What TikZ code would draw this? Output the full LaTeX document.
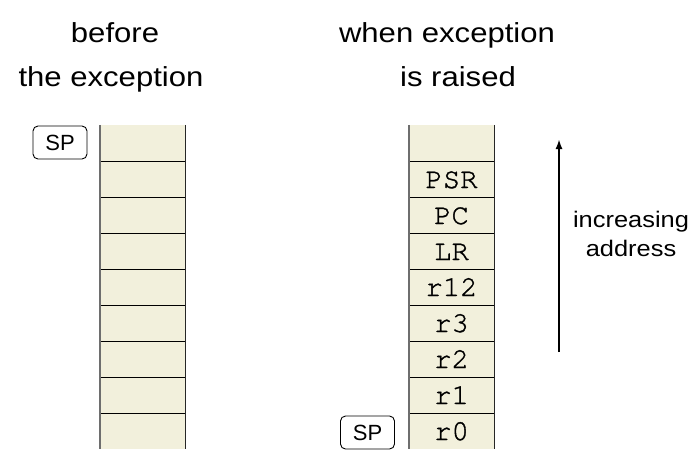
\documentclass[tikz,border=0pt]{standalone}
\usepackage{fontspec}
\setmainfont{Liberation Sans}
\newfontfamily\headfont[FakeStretch=1.13]{Liberation Sans}
\newfontfamily\regfont[FakeBold=1.2]{texgyrecursor-regular.otf}
\usetikzlibrary{arrows.meta}
\definecolor{cellfill}{RGB}{242,240,220}
\definecolor{leftedge}{RGB}{110,110,110}
\tikzset{
  cell/.style={rectangle, fill=cellfill, minimum width=85pt, minimum height=36pt, inner sep=0pt,
    text height=18pt, text depth=0pt, font=\regfont\fontsize{29}{29}\selectfont},
  head/.style={anchor=base, inner sep=0pt, font=\headfont\fontsize{27.5}{30}\selectfont},
  side/.style={anchor=base, inner sep=0pt, font=\headfont\fontsize{22.5}{26}\selectfont},
  spbox/.style={draw=black, line width=0.9pt, rounded corners=5pt, minimum width=54pt, minimum height=33pt,
    inner sep=0pt, text height=15pt, text depth=0pt, font=\fontsize{22}{22}\selectfont},
  sep/.style={black, line width=1.2pt},
  ledge/.style={leftedge, line width=1.6pt},
  redge/.style={black!85, line width=1.2pt},
}
\begin{document}
\begin{tikzpicture}[x=1pt, y=-1pt]
\useasboundingbox (0,0) rectangle (695,464);
% titles
\node[head] (t1) at (115,42) {before};
\node[head] (t2) at (111,86) {the exception};
\node[head] (t3) at (447,42) {when exception};
\node[head] (t4) at (458,86) {is raised};
% left column
\foreach \i in {1,...,9} {
  \node[cell] (L\i) at (142.5,{107+36*\i}) {};
}
\foreach \i in {1,...,8} {
  \draw[sep] (L\i.south west) -- (L\i.south east);
}
\draw[ledge] (L1.north west) -- (L9.south west);
\draw[redge] (L1.north east) -- (L9.south east);
% right column
\node[cell] (R1) at (451.5,143) {};
\node[cell] (R2) at (451.5,179) {PSR};
\node[cell] (R3) at (451.5,215) {PC};
\node[cell] (R4) at (451.5,251) {LR};
\node[cell] (R5) at (451.5,287) {r12};
\node[cell] (R6) at (451.5,323) {r3};
\node[cell] (R7) at (451.5,359) {r2};
\node[cell] (R8) at (451.5,395) {r1};
\node[cell] (R9) at (451.5,431) {r0};
\foreach \i in {1,...,8} {
  \draw[sep] (R\i.south west) -- (R\i.south east);
}
\draw[ledge] (R1.north west) -- (R9.south west);
\draw[redge] (R1.north east) -- (R9.south east);
% SP pointers
\node[spbox] (sp1) at (60,142.5) {SP};
\node[spbox] (sp2) at (367.5,432.5) {SP};
% address arrow
\coordinate (a0) at (559,352);
\coordinate (a1) at (559,139);
\draw[line width=2.6pt, -{Latex[length=10pt, width=7pt]}] (a0) -- (a1);
\node[side] (inc) at (631,227) {increasing};
\node[side] (adr) at (631,256) {address};
\end{tikzpicture}
\end{document}
